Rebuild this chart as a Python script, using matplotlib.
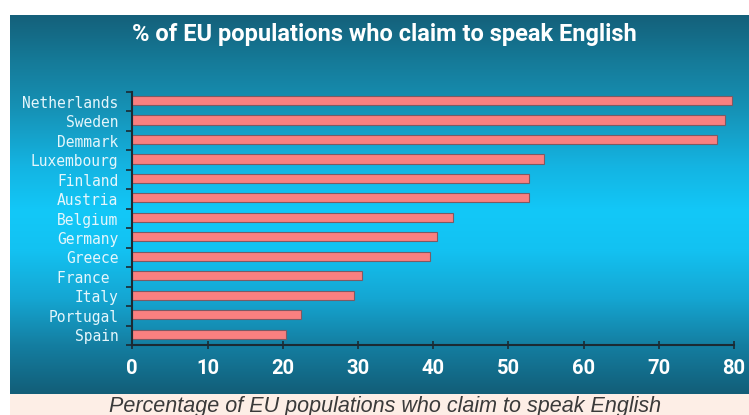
import numpy as np
import matplotlib
matplotlib.use('Agg')
import matplotlib.pyplot as plt
from matplotlib.colors import LinearSegmentedColormap
from matplotlib.patches import Rectangle

# data
countries = ['Netherlands', 'Sweden', 'Demmark', 'Luxembourg', 'Finland', 'Austria',
             'Belgium', 'Germany', 'Greece', 'France ', 'Italy', 'Portugal', 'Spain']
pct = [79.7, 78.8, 77.8, 54.7, 52.7, 52.7, 42.6, 40.5, 39.6, 30.6, 29.5, 22.4, 20.4]
xticks = [0, 10, 20, 30, 40, 50, 60, 70, 80]

title = '% of EU populations who claim to speak English'
caption = 'Percentage of EU populations who claim to speak English'

W, H = 749, 415
fig = plt.figure(figsize=(W / 100, H / 100), dpi=100)
fig.patch.set_facecolor('white')

narrow = 'Roboto'

# background panel with vertical gradient
bg = fig.add_axes([10 / W, (H - 394) / H, 739 / W, 379 / H])
stops = [(0.0, '#14607a'), (0.12, '#157a98'), (0.25, '#1692b6'), (0.40, '#14b4e2'),
         (0.52, '#12c8f8'), (0.62, '#13c2f2'), (0.75, '#15a6d2'), (0.87, '#147fa2'),
         (1.0, '#125e78')]
cmap = LinearSegmentedColormap.from_list('panel', stops)
grad = np.linspace(0, 1, 256).reshape(-1, 1)
bg.imshow(grad, aspect='auto', cmap=cmap, extent=[0, 1, 1, 0])
bg.set_axis_off()

# caption strip
fig.patches.append(Rectangle((10 / W, 0), 739 / W, 21 / H, transform=fig.transFigure,
                             facecolor='#fdeee6', edgecolor='none', zorder=0))
fig.text(385 / W, (H - 406) / H, caption, ha='center', va='center', fontsize=15.5,
         style='italic', color='#3a3a3a', family='Liberation Sans')

fig.text(384 / W, (H - 35) / H, title, ha='center', va='center', fontsize=17,
         fontweight='bold', color='white', family=narrow)

# main chart
ax = fig.add_axes([132.3 / W, (H - 345) / H, 601.6 / W, 253 / H])
ax.patch.set_alpha(0)
y = np.arange(len(countries))
ax.barh(y - 0.06, pct, height=0.47, color='#f98080', edgecolor='#7d5a64', linewidth=0.8)
ax.set_xlim(0, 80)
ax.set_ylim(len(countries) - 0.5, -0.5)

ax.set_xticks(xticks)
ax.set_xticklabels([str(t) for t in xticks], family=narrow, fontweight='bold',
                   fontsize=14.5, color='white')
ax.tick_params(axis='x', direction='inout', length=6, width=1.2, color='#1b2a33', pad=7)

ax.set_yticks(y)
ax.set_yticklabels(countries, family='DejaVu Sans Mono', fontsize=10.5, color='#e4f6fc')
ax.tick_params(axis='y', length=0, pad=10)
ax.set_yticks(np.arange(-0.5, len(countries)), minor=True)
ax.tick_params(axis='y', which='minor', direction='out', length=4, width=1.2, color='#1b2a33')

for s in ['top', 'right']:
    ax.spines[s].set_visible(False)
for s in ['left', 'bottom']:
    ax.spines[s].set_color('#1b2a33')
    ax.spines[s].set_linewidth(1.5)

fig.savefig('out.png', dpi=100)
